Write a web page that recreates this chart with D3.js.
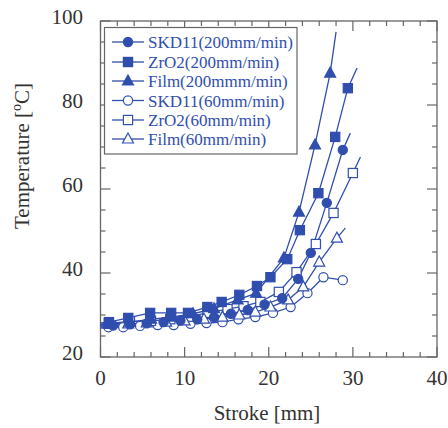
<!DOCTYPE html>
<html><head><meta charset="utf-8">
<script src="https://cdn.jsdelivr.net/npm/d3@7"></script>
<style>body{margin:0;background:#fff}svg{display:block}text{font-family:"Liberation Serif","Times New Roman",serif}</style>
</head><body><div id="chart"></div>
<script>
// ---- data ----
const seriesNames = ["SKD11(200mm/min)","ZrO2(200mm/min)","Film(200mmm/min)","SKD11(60mm/min)","ZrO2(60mm/min)","Film(60mm/min)"];
const seriesMarkers = ["circle","square","triangle","circle","square","triangle"];
const seriesFilled = [true,true,true,false,false,false];

const skd200X = [1.5,3.5,5.5,7.5,9.5,11.5,13.5,15.5,17.5,19.5,21.6,23.5,25.0,26.9,28.8];
const skd200T = [27.5,27.8,28.0,28.3,28.7,29.0,29.5,30.3,31.2,32.5,34.0,38.6,44.8,56.7,69.3];
const skd200End = [29.7,73.3];

const zro200X = [1.0,3.3,5.9,8.4,10.4,12.7,14.4,16.5,18.6,20.2,22.2,23.7,25.9,27.9,29.4];
const zro200T = [28.3,29.3,30.5,30.5,30.5,31.9,33.1,34.8,36.9,39.0,43.3,50.2,59.0,72.4,84.0];
const zro200End = [30.5,88.8];

const film200X = [1.0,3.5,6.0,8.5,11.0,13.5,16.3,18.5,21.8,23.6,25.5,27.3];
const film200T = [27.8,28.3,29.0,29.5,30.3,31.5,33.6,35.2,43.6,54.5,70.5,87.6];
const film200End = [28.0,97.4];

const skd60X = [0.95,2.7,4.7,6.8,8.7,10.7,12.6,14.5,16.4,18.4,20.5,22.6,24.6,26.5,28.8];
const skd60T = [27.1,27.1,27.4,27.6,27.6,27.9,28.1,28.3,29.0,29.5,30.5,31.9,35.2,39.0,38.3];
const skd60End = [28.8,38.3];

const zro60X = [1.0,3.5,6.0,8.3,10.5,12.7,15.1,17.0,19.0,21.2,23.3,25.6,27.7,30.0];
const zro60T = [28.0,28.5,28.6,29.0,29.6,30.5,31.4,32.1,33.1,35.5,40.2,46.9,54.3,63.8];
const zro60End = [30.9,67.6];

const film60X = [1.0,3.3,5.5,7.8,10.0,12.3,14.5,16.5,18.4,20.2,22.3,24.1,26.0,28.1];
const film60T = [27.8,27.9,28.1,28.3,28.6,29.0,29.5,30.0,30.7,31.9,33.6,36.7,42.6,48.3];
const film60End = [29.1,50.7];

const xTickLabels = [0,10,20,30,40];
const yTickLabels = [20,40,60,80,100];

const seriesX = [skd200X, zro200X, film200X, skd60X, zro60X, film60X];
const seriesT = [skd200T, zro200T, film200T, skd60T, zro60T, film60T];
const seriesEnd = [skd200End, zro200End, film200End, skd60End, zro60End, film60End];

// ---- layout ----
const W = 448, H = 428;
const L = 100.5, R = 437, T = 21, B = 357;
const blue = "#2f4eae", axisCol = "#666", textCol = "#333";

const svg = d3.select("#chart").append("svg").attr("width", W).attr("height", H);
const x = d3.scaleLinear().domain([0,40]).range([L,R]);
const y = d3.scaleLinear().domain([20,100]).range([B,T]);

// ticks on all four sides, inward
const g = svg.append("g");
function tickSet(vals, len, isX){
  vals.forEach(v=>{
    if(isX){
      g.append("line").attr("x1",x(v)).attr("x2",x(v)).attr("y1",B).attr("y2",B-len).attr("stroke",axisCol).attr("stroke-width",1.2);
      g.append("line").attr("x1",x(v)).attr("x2",x(v)).attr("y1",T).attr("y2",T+len).attr("stroke",axisCol).attr("stroke-width",1.2);
    } else {
      g.append("line").attr("y1",y(v)).attr("y2",y(v)).attr("x1",L).attr("x2",L+len).attr("stroke",axisCol).attr("stroke-width",1.2);
      g.append("line").attr("y1",y(v)).attr("y2",y(v)).attr("x1",R).attr("x2",R-len).attr("stroke",axisCol).attr("stroke-width",1.2);
    }
  });
}
tickSet(d3.range(0,41,2).filter(v=>v%10!==0), 5, true);
tickSet(xTickLabels, 10, true);
tickSet(d3.range(20,101,5).filter(v=>v%20!==0), 5, false);
tickSet(yTickLabels, 10, false);
svg.append("rect").attr("x",L).attr("y",T).attr("width",R-L).attr("height",B-T)
  .attr("fill","none").attr("stroke",axisCol).attr("stroke-width",1.3);

// tick labels
svg.selectAll(".xl").data(xTickLabels).join("text").attr("class","xl")
  .attr("x",d=>x(d)).attr("y",385).attr("text-anchor","middle")
  .attr("font-size",21).attr("fill",textCol).text(d=>d);
svg.selectAll(".yl").data(yTickLabels).join("text").attr("class","yl")
  .attr("x",83).attr("y",d=>y(d)+3).attr("text-anchor","end")
  .attr("font-size",21).attr("fill",textCol).text(d=>d);

// axis titles
svg.append("text").attr("x",267).attr("y",420).attr("text-anchor","middle")
  .attr("font-size",21).attr("fill",textCol).text("Stroke [mm]");
const yt = svg.append("text").attr("transform","translate(29,156) rotate(-90)")
  .attr("text-anchor","middle").attr("font-size",21).attr("fill",textCol);
yt.append("tspan").text("Temperature [");
yt.append("tspan").attr("font-size",14).attr("dy",-8).text("o");
yt.append("tspan").attr("dy",8).text("C]");

// markers
function drawMarker(sel, type, filled, cx, cy){
  const fill = filled ? blue : "#fff";
  if(type==="circle") sel.append("circle").attr("cx",cx).attr("cy",cy).attr("r",4.6)
    .attr("fill",fill).attr("stroke",blue).attr("stroke-width",1.2);
  else if(type==="square") sel.append("rect").attr("x",cx-4.6).attr("y",cy-4.6).attr("width",9.2).attr("height",9.2)
    .attr("fill",fill).attr("stroke",blue).attr("stroke-width",1.2);
  else sel.append("path").attr("d",`M${cx},${cy-6}L${cx+5.5},${cy+4}L${cx-5.5},${cy+4}Z`)
    .attr("fill",fill).attr("stroke",blue).attr("stroke-width",1.2);
}

const line = d3.line().x(d=>x(d[0])).y(d=>y(d[1]));
const plot = svg.append("g");
// draw open (60) series first, then filled
[3,4,5,0,1,2].forEach(i=>{
  const pts = [[0,seriesT[i][0]-0.2]].concat(seriesX[i].map((v,j)=>[v,seriesT[i][j]]));
  pts.push(seriesEnd[i]);
  plot.append("path").attr("d",line(pts)).attr("fill","none").attr("stroke",blue).attr("stroke-width",1.3);
});
[3,4,5,0,1,2].forEach(i=>{
  seriesX[i].forEach((v,j)=>drawMarker(plot, seriesMarkers[i], seriesFilled[i], x(v), y(seriesT[i][j])));
});

// legend
const lg = svg.append("g");
lg.append("rect").attr("x",104.5).attr("y",27.5).attr("width",192.5).attr("height",126.5)
  .attr("fill","#fff").attr("stroke",axisCol).attr("stroke-width",1.2);
const rowY = [42,62,81,100.5,120,139];
seriesNames.forEach((name,i)=>{
  lg.append("line").attr("x1",112).attr("x2",144).attr("y1",rowY[i]).attr("y2",rowY[i]).attr("stroke",blue).attr("stroke-width",1.3);
  drawMarker(lg, seriesMarkers[i], seriesFilled[i], 128, rowY[i]);
  lg.append("text").attr("x",148).attr("y",rowY[i]+6).attr("font-size",17).attr("fill",blue).text(name);
});
</script></body></html>
